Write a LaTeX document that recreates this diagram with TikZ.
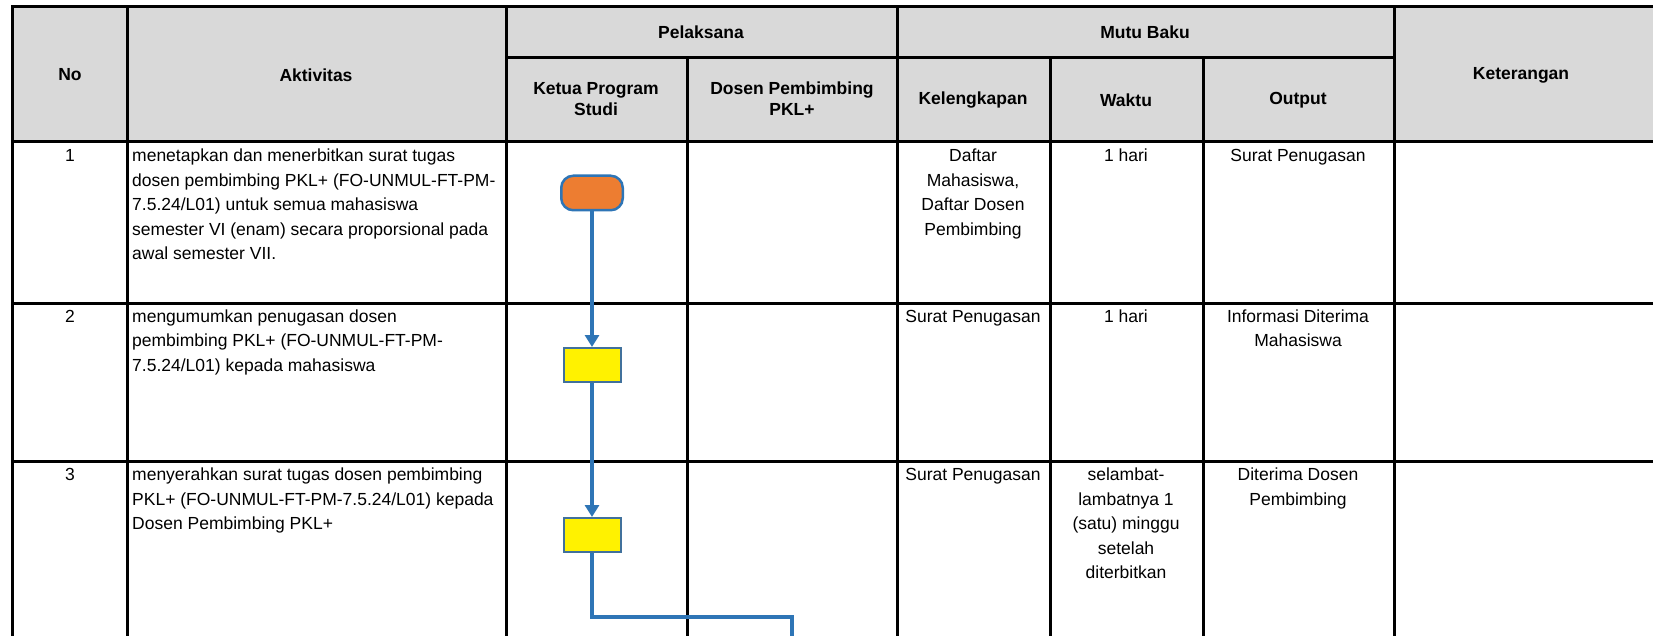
\documentclass[tikz,border=0pt]{standalone}
\usepackage{fontspec}
\setmainfont{Liberation Sans}
\usetikzlibrary{arrows.meta}
\definecolor{hdrgray}{HTML}{D9D9D9}
\definecolor{flowblue}{HTML}{2E75B6}
\definecolor{termorange}{HTML}{ED7D31}
\definecolor{boxedge}{HTML}{41719C}
\begin{document}
\begin{tikzpicture}[x=1pt,y=-1pt,
    font=\fontsize{17.5}{24.5}\selectfont,
    hdr/.style={font=\fontsize{17.5}{21}\selectfont\bfseries,align=center,inner sep=0},
    cell/.style={anchor=north,align=center,inner sep=0},
    ltxt/.style={anchor=north west,align=left,inner sep=0},
    grid/.style={line width=3pt,line cap=rect},
    flow/.style={draw=flowblue,line width=3.5pt},
    tip/.style={-{Triangle[width=14pt,length=12pt]}},
    term/.style={draw=flowblue,fill=termorange,line width=2.5pt,rounded corners=12pt,
        minimum width=61.5pt,minimum height=34.5pt,inner sep=0},
    proc/.style={draw=boxedge,fill=yellow,line width=2pt,
        minimum width=57pt,minimum height=34pt,inner sep=0}]
    \useasboundingbox (0,0) rectangle (1653,636);
    \clip (0,0) rectangle (1653,636);
    \fill[hdrgray] (12.5,7) rectangle (1670,142);
    % table lines
    \draw[grid] (12.5,7) -- (1670,7);
    \draw[grid] (506,58) -- (1394,58);
    \foreach \y in {142,303,461}
        \draw[grid] (12.5,\y) -- (1670,\y);
    \foreach \x in {12.5,127,506,897,1394}
        \draw[grid] (\x,7) -- (\x,650);
    \foreach \x in {687,1050,1203}
        \draw[grid] (\x,58) -- (\x,650);
    % header
    \node[hdr] (hno) at (70,75) {No};
    \node[hdr] (hakt) at (316,75) {Aktivitas};
    \node[hdr] (hpel) at (701,32) {Pelaksana};
    \node[hdr] (hmutu) at (1145,32) {Mutu Baku};
    \node[hdr] (hkps) at (596,99) {Ketua Program\\Studi};
    \node[hdr] (hdpp) at (792,99) {Dosen Pembimbing\\PKL+};
    \node[hdr] (hkel) at (973,100) {Kelengkapan};
    \node[hdr] (hwkt) at (1126,100) {Waktu};
    \node[hdr] (hout) at (1298,100) {Output};
    \node[hdr] (hket) at (1521,75) {Keterangan};
    % row 1
    \node[cell] (no1) at (70,144.5) {\strut 1};
    \node[ltxt] (akt1) at (132,144.5) {\strut menetapkan dan menerbitkan surat tugas\\
        dosen pembimbing PKL+ (FO-UNMUL-FT-PM-\\7.5.24/L01) untuk semua mahasiswa\\
        semester VI (enam) secara proporsional pada\\awal semester VII.};
    \node[cell] (kel1) at (973,144.5) {\strut Daftar\\Mahasiswa,\\Daftar Dosen\\Pembimbing};
    \node[cell] (wkt1) at (1126,144.5) {\strut 1 hari};
    \node[cell] (out1) at (1298,144.5) {\strut Surat Penugasan};
    % row 2
    \node[cell] (no2) at (70,305) {\strut 2};
    \node[ltxt] (akt2) at (132,305) {\strut mengumumkan penugasan dosen\\
        pembimbing PKL+ (FO-UNMUL-FT-PM-\\7.5.24/L01) kepada mahasiswa};
    \node[cell] (kel2) at (973,305) {\strut Surat Penugasan};
    \node[cell] (wkt2) at (1126,305) {\strut 1 hari};
    \node[cell] (out2) at (1298,305) {\strut Informasi Diterima\\Mahasiswa};
    % row 3
    \node[cell] (no3) at (70,463.5) {\strut 3};
    \node[ltxt] (akt3) at (132,463.5) {\strut menyerahkan surat tugas dosen pembimbing\\
        PKL+ (FO-UNMUL-FT-PM-7.5.24/L01) kepada\\Dosen Pembimbing PKL+};
    \node[cell] (kel3) at (973,463.5) {\strut Surat Penugasan};
    \node[cell] (wkt3) at (1126,463.5) {\strut selambat-\\lambatnya 1\\(satu) minggu\\setelah\\diterbitkan};
    \node[cell] (out3) at (1298,463.5) {\strut Diterima Dosen\\Pembimbing};
    % flow
    \node[term] (mulai) at (592,193) {};
    \node[proc] (umum) at (592,365) {};
    \node[proc] (serah) at (592,535) {};
    \coordinate (belok) at (792,617);
    \coordinate (lanjut) at (792,650);
    \draw[flow,tip] (mulai) -- (umum);
    \draw[flow,tip] (umum) -- (serah);
    \draw[flow] (serah.south) |- (belok) -- (lanjut);
\end{tikzpicture}
\end{document}
